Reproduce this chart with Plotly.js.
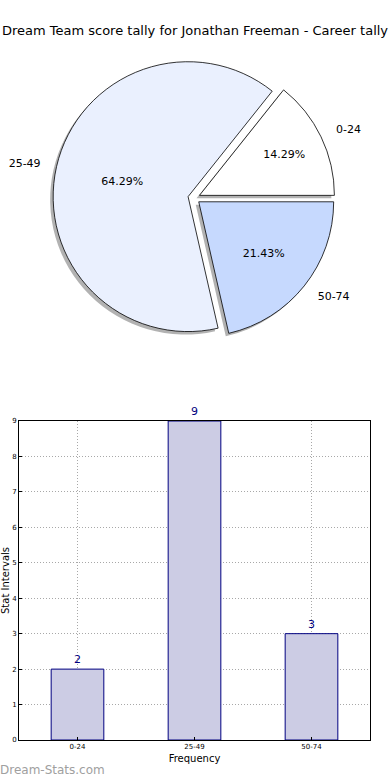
<!DOCTYPE html>
<html><head><meta charset="utf-8">
<script src="https://cdn.plot.ly/plotly-3.0.1.min.js"></script>
<style>html,body{margin:0;padding:0;background:#fff}#chart{width:390px;height:780px}</style>
</head><body><div id="chart"></div>
<script>
const categories = ['0-24', '25-49', '50-74'];
const counts = [2, 9, 3];
const sliceColors = ['#ffffff', '#eaf0fe', '#c6d9fe'];
const yTicks = [0, 1, 2, 3, 4, 5, 6, 7, 8, 9];

const total = counts.reduce((a, b) => a + b, 0);
// first slice begins at 3 o'clock and runs counterclockwise
const rot = 90 - 360 * counts[0] / total;

const W = 390, H = 780;
const cx = 194, cy = 198, side = 282;
function dom(c1, c2, s) {
  return {x: [(c1 - s / 2) / W, (c1 + s / 2) / W], y: [1 - (c2 + s / 2) / H, 1 - (c2 - s / 2) / H]};
}
const pieDomain = dom(cx, cy, side);
const shadowDomain = dom(cx - 3, cy + 3, side);
const labelDomain = dom(cx, cy, side + 26);
const pulls = [0.045, 0.045, 0.045];
const font = 'DejaVu Sans, sans-serif';

const shadow = {
  type: 'pie', labels: categories, values: counts, sort: false,
  direction: 'counterclockwise', rotation: rot, pull: pulls,
  domain: shadowDomain, marker: {colors: ['rgba(0,0,0,0.3)','rgba(0,0,0,0.3)','rgba(0,0,0,0.3)'], line: {width: 0}},
  textinfo: 'none', hoverinfo: 'skip', showlegend: false
};
const labelPie = {
  type: 'pie', labels: categories, values: counts, sort: false,
  direction: 'counterclockwise', rotation: rot, pull: pulls,
  domain: labelDomain, marker: {colors: ['rgba(0,0,0,0)','rgba(0,0,0,0)','rgba(0,0,0,0)'], line: {width: 0}},
  textinfo: 'label', textposition: 'outside', outsidetextfont: {family: font, size: 11, color: '#000'},
  hoverinfo: 'skip', showlegend: false, automargin: false
};
const pie = {
  type: 'pie', labels: categories, values: counts, sort: false,
  direction: 'counterclockwise', rotation: rot, pull: pulls,
  domain: pieDomain, marker: {colors: sliceColors, line: {color: '#000', width: 0.8}},
  texttemplate: '%{percent:.2%}', textposition: 'inside', insidetextorientation: 'horizontal',
  insidetextfont: {family: font, size: 11, color: '#000'},
  showlegend: false
};
const bars = {
  type: 'bar', x: categories, y: counts, xaxis: 'x', yaxis: 'y',
  width: 0.45, marker: {color: '#cccce4', line: {color: '#000080', width: 1}},
  text: counts.map(String), textposition: 'outside', cliponaxis: false, constraintext: 'none',
  textfont: {family: font, size: 11, color: '#000080'}, showlegend: false
};

const gridDash = '1px,2px';
const layout = {
  width: W, height: H, margin: {l: 0, r: 0, t: 0, b: 0},
  paper_bgcolor: '#fff', plot_bgcolor: '#fff', showlegend: false,
  font: {family: font, color: '#000'},
  title: {text: 'Dream Team score tally for Jonathan Freeman - Career tally', font: {family: font, size: 13, color: '#000'}, x: 0.5, xanchor: 'center', y: 0.961, yanchor: 'middle'},
  xaxis: {domain: [19/W, 370/W], anchor: 'y', type: 'category', range: [-0.5, 2.5],
    showline: true, linecolor: '#000', linewidth: 1, mirror: true,
    showgrid: true, gridcolor: '#a8a8a8', griddash: gridDash, gridwidth: 1,
    ticks: 'inside', ticklen: 3, tickcolor: '#000', tickfont: {family: font, size: 7, color: '#000'},
    title: {text: 'Frequency', font: {family: font, size: 10, color: '#000'}, standoff: 4}, automargin: false, zeroline: false},
  yaxis: {domain: [1 - 740/H, 1 - 421/H], anchor: 'x', range: [0, 9], tickvals: yTicks,
    showline: true, linecolor: '#000', linewidth: 1, mirror: true,
    showgrid: true, gridcolor: '#a8a8a8', griddash: gridDash, gridwidth: 1,
    ticks: 'inside', ticklen: 3, tickcolor: '#000', tickfont: {family: font, size: 7, color: '#000'},
    title: {text: 'Stat Intervals', font: {family: font, size: 10, color: '#000'}, standoff: 4}, automargin: false, zeroline: false},
  annotations: [{xref: 'paper', yref: 'paper', x: -0.005, y: 1 - 770/H, xanchor: 'left', yanchor: 'middle', showarrow: false,
    text: 'Dream-Stats.com', font: {family: font, size: 12, color: '#a0a0a0'}}]
};

Plotly.newPlot('chart', [shadow, labelPie, pie, bars], layout, {staticPlot: true});
</script>
</body></html>
